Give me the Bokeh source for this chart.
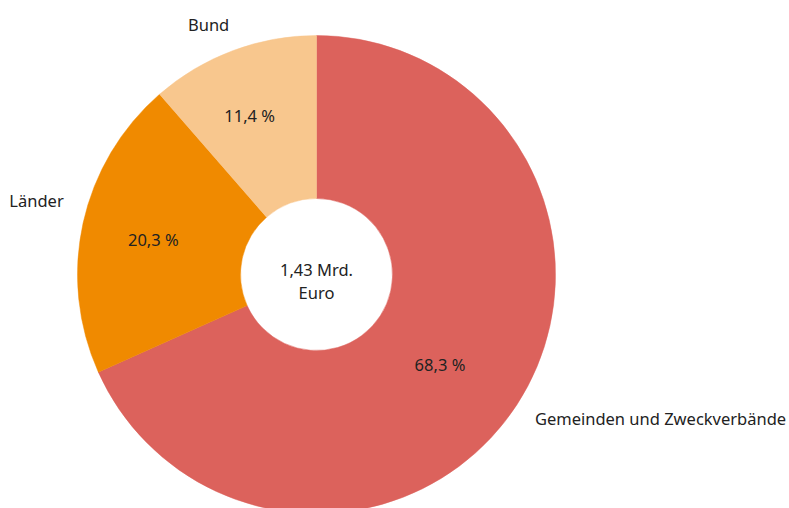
import math
from bokeh.plotting import figure
from bokeh.models import ColumnDataSource, Range1d
from bokeh.core.properties import value
from bokeh.embed import file_html
from bokeh.resources import INLINE

categories = ["Gemeinden und Zweckverbände", "Länder", "Bund"]
shares = [68.3, 20.3, 11.4]
share_labels = ["68,3 %", "20,3 %", "11,4 %"]
colors = ["#dc625c", "#f08a00", "#f8c78e"]
center_lines = ["1,43 Mrd.", "Euro"]

W, H = 789, 508
cx, cy = 316, 234
R_OUT, R_IN = 239, 76
R_PCT = 165
R_LAB = 265

p = figure(width=W, height=H, output_backend="svg", toolbar_location=None,
           x_range=Range1d(0, W), y_range=Range1d(0, H), min_border=0)
p.axis.visible = False
p.grid.visible = False
p.outline_line_color = None
p.background_fill_color = "white"

total = sum(shares)
starts, ends, mids = [], [], []
cum = 0.0
for s in shares:
    a0 = cum / total * 2 * math.pi
    cum += s
    a1 = cum / total * 2 * math.pi
    starts.append(math.pi / 2 - a0)
    ends.append(math.pi / 2 - a1)
    mids.append(math.pi / 2 - (a0 + a1) / 2)

src = ColumnDataSource(dict(start=starts, end=ends, color=colors, cat=categories))
p.annular_wedge(x=cx, y=cy, inner_radius=R_IN, outer_radius=R_OUT,
                start_angle="start", end_angle="end", direction="clock",
                fill_color="color", line_color="color", line_width=0.5, source=src)

font = value("Noto Sans")
tc = "#222222"
fs = "16.5px"

# percentage labels
pct_dx = [-15, -2, -9]
pct_dy = [0, 0, 4]
px = [cx + R_PCT * math.cos(m) + d for m, d in zip(mids, pct_dx)]
py = [cy + R_PCT * math.sin(m) + d for m, d in zip(mids, pct_dy)]
p.text(x=px, y=py, text=share_labels, text_font=font, text_font_size=fs,
       text_color=tc, text_align="center", text_baseline="middle")

# outer category labels
lab_dx = [-4, 6, -15]
lab_dy = [0, 17, 2]
lab_align = ["left", "right", "center"]
ox = [cx + R_LAB * math.cos(m) + d for m, d in zip(mids, lab_dx)]
oy = [cy + R_LAB * math.sin(m) + d for m, d in zip(mids, lab_dy)]
p.text(x=ox, y=oy, text=categories, text_font=font, text_font_size=fs,
       text_color=tc, text_align=lab_align, text_baseline="middle")

# center text
p.text(x=[cx, cx], y=[cy + 5, cy - 18], text=center_lines, text_font=font,
       text_font_size=fs, text_color=tc, text_align="center", text_baseline="middle")

open("out.html", "w").write(file_html(p, INLINE))
